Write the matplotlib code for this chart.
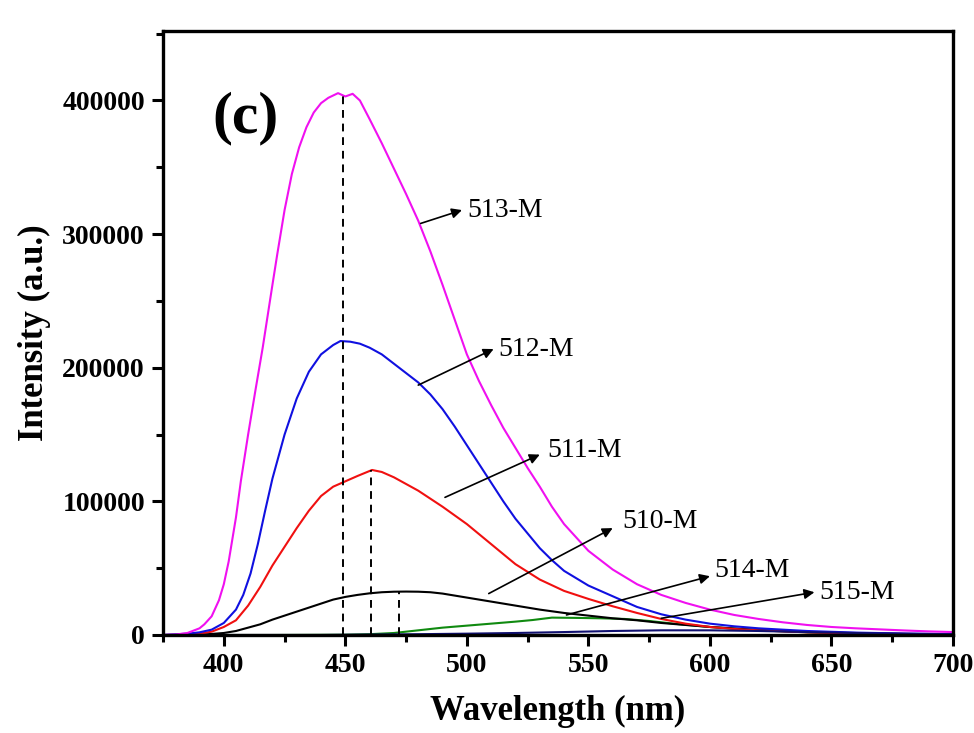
import matplotlib
matplotlib.use("Agg")
import matplotlib.pyplot as plt
from matplotlib.ticker import MultipleLocator, FuncFormatter

# emission spectra, wavelength (nm) and intensity (a.u.) per sample
wl_513 = [375, 380, 385, 390, 392, 395, 398, 400, 402, 405, 407, 410, 413, 416, 420, 422, 425,
          428, 431, 434, 437, 440, 443, 447, 450, 453, 456, 460, 465, 470, 475, 480, 485, 490,
          495, 500, 505, 510, 515, 520, 525, 530, 535, 540, 550, 560, 570, 580, 590, 600, 610,
          620, 630, 640, 650, 660, 670, 680, 690, 700]
I_513 = [0, 300, 1500, 5000, 8000, 14000, 26000, 38000, 55000, 88000, 115000, 150000, 183000,
         215000, 262000, 285000, 318000, 345000, 365000, 380000, 391000, 398000, 402000, 405500,
         403000, 405000, 400000, 386000, 368000, 349000, 330000, 310000, 287000, 262000, 236000,
         210000, 190000, 172000, 155000, 140000, 125000, 111000, 96000, 83000, 63000, 49000,
         38000, 30000, 24000, 19000, 15000, 12000, 9500, 7500, 6000, 5000, 4200, 3400, 2700,
         2200]

wl_512 = [375, 385, 390, 395, 400, 405, 408, 411, 414, 417, 420, 425, 430, 435, 440, 445, 448,
          452, 456, 460, 465, 470, 475, 480, 485, 490, 495, 500, 505, 510, 515, 520, 525, 530,
          535, 540, 550, 560, 570, 580, 590, 600, 610, 620, 640, 660, 680, 700]
I_512 = [0, 1000, 2000, 4000, 9000, 19000, 30000, 46000, 68000, 93000, 117000, 150000, 177000,
         197000, 210000, 217000, 220000, 219500, 218000, 215000, 210000, 203000, 196000, 189000,
         180000, 169000, 156000, 142000, 128000, 114000, 100000, 87000, 76000, 65000, 56000,
         48000, 37000, 29000, 21000, 15500, 11500, 8500, 6500, 5000, 3000, 1800, 1100, 700]

wl_511 = [375, 385, 390, 395, 400, 405, 410, 415, 420, 425, 430, 435, 440, 445, 450, 455, 461,
          465, 470, 475, 480, 490, 500, 510, 520, 530, 540, 550, 560, 570, 580, 590, 600, 610,
          620, 640, 660, 680, 700]
I_511 = [0, 200, 1000, 2500, 6000, 11000, 22000, 36000, 52000, 66000, 80000, 93000, 104000,
         111000, 115000, 119000, 123500, 122000, 118000, 113000, 108000, 96000, 83000, 68000,
         53000, 41500, 33000, 27000, 21500, 16500, 12000, 8500, 6000, 4500, 3500, 2000, 1200,
         800, 500]

wl_510 = [375, 385, 390, 395, 400, 405, 410, 415, 420, 425, 430, 435, 440, 445, 450, 455, 460,
          465, 470, 475, 480, 485, 490, 495, 500, 510, 520, 530, 540, 550, 560, 570, 580, 590,
          600, 620, 640, 660, 680, 700]
I_510 = [0, 0, 300, 800, 1500, 3000, 5500, 8000, 11500, 14500, 17500, 20500, 23500, 26500,
         28500, 30000, 31200, 32000, 32400, 32500, 32400, 32000, 31000, 29500, 28000, 25000,
         22000, 19000, 16500, 14500, 12500, 11000, 9000, 7500, 6000, 3800, 2200, 1300, 800, 500]

wl_514 = [375, 420, 450, 460, 470, 480, 490, 500, 510, 520, 527, 535, 545, 555, 565, 575, 585,
          600, 620, 640, 660, 680, 700]
I_514 = [0, 0, 200, 600, 1500, 3500, 5500, 7000, 8500, 10000, 11200, 13000, 12800, 12500,
         12000, 10500, 8500, 6000, 3500, 2000, 1100, 600, 400]

wl_515 = [375, 440, 460, 480, 500, 520, 540, 560, 580, 600, 620, 640, 660, 680, 700]
I_515 = [0, 0, 300, 600, 1000, 1500, 2200, 3000, 3500, 3500, 3000, 2200, 1500, 900, 600]

# peak positions marked with dashed drop lines
peak_wl = [449, 460.6, 472]
peak_I = [405500, 123500, 32500]

# sample labels: (text, arrow tail, arrow head, text anchor)
labels = [
    ("513-M", (481, 308000), (498, 318000), (500, 318000)),
    ("512-M", (480, 187000), (511, 214000), (513, 214000)),
    ("511-M", (491, 103000), (530, 135000), (533, 138000)),
    ("510-M", (509, 31000), (560, 80000), (564, 85000)),
    ("514-M", (541, 15000), (600, 44000), (602, 48000)),
    ("515-M", (580, 12500), (643, 32000), (645, 32000)),
]

serif = "Liberation Serif"
fig = plt.figure(figsize=(9.74, 7.33), dpi=100)
ax = fig.add_axes([0.1674, 0.1337, 0.8110, 0.8240])

ax.plot(wl_514, I_514, color="#108a10", lw=1.5)
ax.plot(wl_510, I_510, color="black", lw=1.5)
ax.plot(wl_511, I_511, color="#f01010", lw=1.5)
ax.plot(wl_512, I_512, color="#1010e0", lw=1.5)
ax.plot(wl_513, I_513, color="#f010f0", lw=1.5)
ax.plot(wl_515, I_515, color="#101070", lw=1.5)

for x, y in zip(peak_wl, peak_I):
    ax.plot([x, x], [0, y], color="black", lw=1.4, ls=(0, (4, 3)))

for text, tail, head, pos in labels:
    ax.annotate("", xy=head, xytext=tail,
                arrowprops=dict(arrowstyle="-|>", color="black", lw=1.2,
                                mutation_scale=15, shrinkA=0, shrinkB=0))
    ax.text(pos[0], pos[1], text, family=serif, fontsize=20, va="center", ha="left")

ax.text(0.062, 0.855, "(c)", transform=ax.transAxes, family=serif, fontsize=43,
        fontweight="bold", va="center", ha="left")

ax.set_xlim(375, 700)
ax.set_ylim(0, 452000)
ax.xaxis.set_major_locator(MultipleLocator(50))
ax.xaxis.set_minor_locator(MultipleLocator(25))
ax.yaxis.set_major_locator(MultipleLocator(100000))
ax.yaxis.set_minor_locator(MultipleLocator(50000))
ax.yaxis.set_major_formatter(FuncFormatter(lambda v, p: "%d" % v))

ax.tick_params(which="major", direction="out", length=8, width=2.2, pad=5)
ax.tick_params(which="minor", direction="out", length=5, width=2.2)
for s in ax.spines.values():
    s.set_linewidth(2.4)
for lab in ax.get_xticklabels() + ax.get_yticklabels():
    lab.set_family(serif)
    lab.set_fontweight("bold")
    lab.set_fontsize(20)

ax.set_xlabel("Wavelength (nm)", family=serif, fontweight="bold", fontsize=25, labelpad=12)
ax.set_ylabel("Intensity (a.u.)", family=serif, fontweight="bold", fontsize=25, labelpad=8)

fig.savefig("out.png", dpi=100)
